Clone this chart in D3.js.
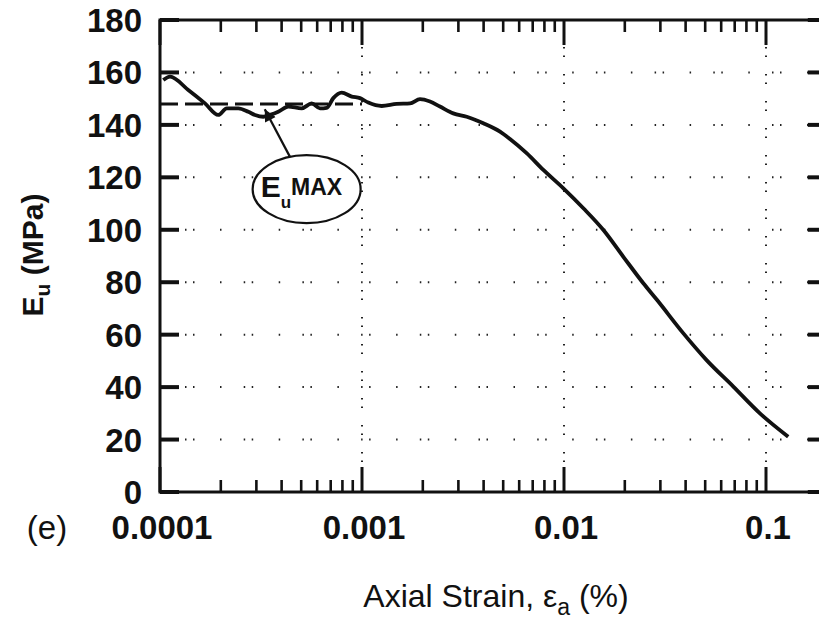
<!DOCTYPE html>
<html>
<head>
<meta charset="utf-8">
<script src="https://cdn.jsdelivr.net/npm/d3@7"></script>
<style>
  body { margin: 0; background: #fff; }
  svg { display: block; font-family: "Liberation Sans", Arial, sans-serif; }
</style>
</head>
<body>
<svg id="chart"></svg>
<script>
// values
const strain = [0.0001038, 0.0001121, 0.000138, 0.000167, 0.0001943, 0.0002139, 0.0002442,
  0.0002736, 0.0002954, 0.0003245, 0.0003504, 0.000385, 0.0004315, 0.0005028, 0.0005636,
  0.0006196, 0.0006687, 0.0007209, 0.0007931, 0.0008893, 0.0009775, 0.001074, 0.001252,
  0.001485, 0.001729, 0.001937, 0.002171, 0.002432, 0.002831, 0.003299, 0.003987, 0.004822,
  0.005402, 0.00653, 0.0079, 0.00993, 0.01247, 0.01567, 0.01967, 0.0247, 0.0289, 0.039,
  0.0508, 0.0689, 0.0933, 0.1288];
const eu = [157.1, 158.4, 153.3, 148.2, 143.8, 146.3, 146.3,
  145.0, 143.8, 143.1, 143.8, 145.0, 147.0, 146.3, 148.2,
  146.3, 146.5, 150.2, 152.3, 150.8, 150.2, 148.5, 147.2,
  148.0, 148.2, 149.8, 148.9, 147.0, 144.4, 143.1, 140.6, 137.4,
  134.6, 129.2, 122.8, 115.8, 108.2, 99.9, 89.7, 79.6, 73.2, 60.5,
  50.3, 40.2, 30.0, 21.1];

const xTicks = [0.0001, 0.001, 0.01, 0.1];
const xTickLabels = ["0.0001", "0.001", "0.01", "0.1"];
const yTicks = [0, 20, 40, 60, 80, 100, 120, 140, 160, 180];
const yGrid = [20, 40, 60, 80, 100, 120, 140, 160];
const euMax = 148;
const euMaxRange = [0.0001, 0.001];

const W = 819, H = 622;
const svg = d3.select('#chart').attr('width', W).attr('height', H);

// the frame runs a little past the window on the right (to 0.2)
const x = d3.scaleLog().domain([0.0001, 0.1]).range([160, 766]);
const y = d3.scaleLinear().domain([0, 180]).range([492, 20]);
const xRight = x(0.2);

// minor decade ticks
const minor = [];
xTicks.forEach(function (d) {
  for (let k = 2; k <= 9; k++) {
    if (d * k <= 0.2) minor.push(d * k);
  }
});

// dotted grid
const g = svg.append('g');
g.selectAll('.hgrid').data(yGrid).enter().append('line')
  .attr('x1', 160).attr('x2', xRight)
  .attr('y1', d => y(d)).attr('y2', d => y(d))
  .attr('stroke', '#222').attr('stroke-width', 2)
  .attr('stroke-dasharray', '1.5,6.5,1.5,25.5,1.5,22.2')
  .attr('stroke-dashoffset', 33.7);
g.selectAll('.vgrid').data(xTicks.slice(1)).enter().append('line')
  .attr('x1', d => x(d)).attr('x2', d => x(d))
  .attr('y1', 20).attr('y2', 492)
  .attr('stroke', '#222').attr('stroke-width', 2)
  .attr('stroke-dasharray', '1.5,7,1.5,17');

// frame
svg.append('rect')
  .attr('x', 160).attr('y', 20)
  .attr('width', xRight - 160).attr('height', 472)
  .attr('fill', 'none').attr('stroke', '#111').attr('stroke-width', 3);

// x ticks, bottom & top
const ticks = svg.append('g').attr('stroke', '#111');
[[492, -1], [20, 1]].forEach(function (side) {
  const y0 = side[0], dir = side[1];
  ticks.selectAll(null).data(xTicks).enter().append('line')
    .attr('x1', d => x(d)).attr('x2', d => x(d))
    .attr('y1', y0).attr('y2', y0 + dir * 25)
    .attr('stroke-width', 3);
  ticks.selectAll(null).data(minor).enter().append('line')
    .attr('x1', d => x(d)).attr('x2', d => x(d))
    .attr('y1', y0).attr('y2', y0 + dir * 12)
    .attr('stroke-width', 2.6);
});

// y ticks, left & right
ticks.selectAll(null).data(yTicks).enter().append('line')
  .attr('x1', 160).attr('x2', 179)
  .attr('y1', d => y(d)).attr('y2', d => y(d))
  .attr('stroke-width', 4);
ticks.selectAll(null).data(yTicks).enter().append('line')
  .attr('x1', xRight).attr('x2', xRight - 19)
  .attr('y1', d => y(d)).attr('y2', d => y(d))
  .attr('stroke-width', 4);

// tick labels
svg.selectAll('.ylab').data(yTicks).enter().append('text')
  .attr('x', 142).attr('y', d => y(d) + 12)
  .attr('text-anchor', 'end')
  .attr('font-size', 33).attr('font-weight', 'bold').attr('fill', '#111')
  .text(d => d);
svg.selectAll('.xlab').data(xTicks).enter().append('text')
  .attr('x', d => x(d) + 2).attr('y', 539)
  .attr('text-anchor', 'middle')
  .attr('font-size', 33).attr('font-weight', 'bold').attr('fill', '#111')
  .text((d, i) => xTickLabels[i]);

svg.append('text')
  .attr('x', 47).attr('y', 539)
  .attr('text-anchor', 'middle')
  .attr('font-size', 33).attr('fill', '#111')
  .text('(e)');

// axis titles
const xt = svg.append('text')
  .attr('x', 496).attr('y', 607)
  .attr('text-anchor', 'middle')
  .attr('font-size', 32).attr('fill', '#111');
xt.append('tspan').text('Axial Strain, ε');
xt.append('tspan').attr('font-size', 23).attr('dy', 8).text('a');
xt.append('tspan').attr('dy', -8).text(' (%)');

const yt = svg.append('text')
  .attr('transform', 'translate(43,255) rotate(-90)')
  .attr('text-anchor', 'middle')
  .attr('font-size', 30).attr('font-weight', 'bold').attr('fill', '#111');
yt.append('tspan').text('E');
yt.append('tspan').attr('font-size', 21).attr('dy', 7).text('u');
yt.append('tspan').attr('dy', -7).text('  (MPa)');

// Eu max dashed line
svg.append('line')
  .attr('x1', x(euMaxRange[0])).attr('x2', x(euMaxRange[1]))
  .attr('y1', y(euMax)).attr('y2', y(euMax))
  .attr('stroke', '#111').attr('stroke-width', 3)
  .attr('stroke-dasharray', '18,7');

// the curve
const line = d3.line()
  .x((d, i) => x(strain[i]))
  .y(d => y(d))
  .curve(d3.curveMonotoneX);
svg.append('path')
  .datum(eu)
  .attr('d', line)
  .attr('fill', 'none').attr('stroke', '#111').attr('stroke-width', 3.8)
  .attr('stroke-linejoin', 'round');

// annotation: arrow + ellipse label
svg.append('defs').append('marker')
  .attr('id', 'arr').attr('viewBox', '0 0 10 10')
  .attr('refX', 10).attr('refY', 5)
  .attr('markerWidth', 14).attr('markerHeight', 12)
  .attr('markerUnits', 'userSpaceOnUse')
  .attr('orient', 'auto')
  .append('path').attr('d', 'M0,0L10,5L0,10Z').attr('fill', '#111');

const tail = [0.00044, 127.8], tip = [0.00033, 146];
svg.append('line')
  .attr('x1', x(tail[0])).attr('y1', y(tail[1]))
  .attr('x2', x(tip[0])).attr('y2', y(tip[1]))
  .attr('stroke', '#111').attr('stroke-width', 2.2)
  .attr('marker-end', 'url(#arr)');

const ec = [0.000532, 115.5];
svg.append('ellipse')
  .attr('cx', x(ec[0])).attr('cy', y(ec[1]))
  .attr('rx', 54).attr('ry', 34)
  .attr('fill', '#fff').attr('stroke', '#111').attr('stroke-width', 2.2);
const lt = svg.append('text')
  .attr('x', x(ec[0]) - 46).attr('y', y(ec[1]) + 8)
  .attr('font-weight', 'bold').attr('fill', '#111');
lt.append('tspan').attr('font-size', 30).text('E');
lt.append('tspan').attr('font-size', 17).attr('dy', 11).text('u');
lt.append('tspan').attr('font-size', 23).attr('dy', -13).text('MAX');
</script>
</body>
</html>
